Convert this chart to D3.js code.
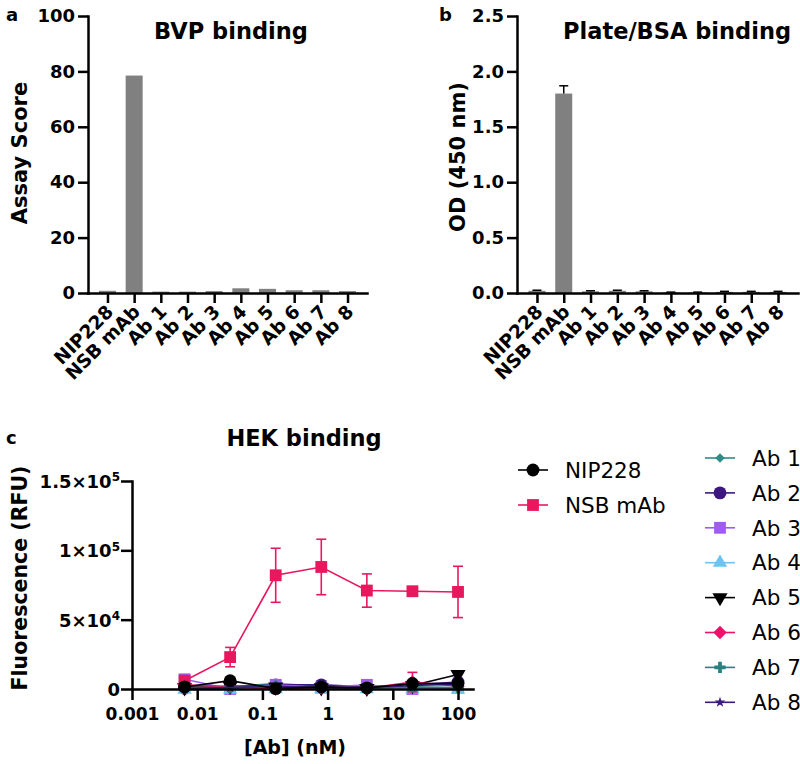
<!DOCTYPE html>
<html>
<head>
<meta charset="utf-8">
<script src="https://cdn.jsdelivr.net/npm/d3@7"></script>
<style>
  html, body { margin: 0; padding: 0; background: #fff; }
  svg { display: block; }
  text { font-family: "DejaVu Sans", "Liberation Sans", Arial, sans-serif; }
</style>
</head>
<body>
<svg id="chart" width="800" height="764"></svg>
<script>
// ---------------- DATA ----------------
const categories = ["NIP228", "NSB mAb", "Ab 1", "Ab 2", "Ab 3", "Ab 4", "Ab 5", "Ab 6", "Ab 7", "Ab 8"];
const bvpScores = [0.8, 78.5, 0.5, 0.5, 0.7, 1.7, 1.5, 1.0, 1.0, 0.7];
const bvpYTicks = [0, 20, 40, 60, 80, 100];

const plateOD = [0.02, 1.80, 0.015, 0.02, 0.015, 0.005, 0.005, 0.01, 0.01, 0.01];
const plateODErr = [0.005, 0.07, 0.005, 0.005, 0.005, 0.003, 0.003, 0.005, 0.005, 0.005];
const plateYTicks = [0, 0.5, 1.0, 1.5, 2.0, 2.5];

const concentrations = [0.0064, 0.032, 0.16, 0.8, 4, 20, 100];
const hekXTicks = [0.001, 0.01, 0.1, 1, 10, 100];
const hekYTicks = [0, 50000, 100000, 150000];

const nip228RFU = [1500, 6000, 300, 1500, 800, 4000, 4000];
const nsbRFU = [6000, 23000, 82000, 88000, 71000, 70500, 70000];
const nsbRFUErr = [1500, 7000, 19500, 20000, 12000, 500, 18500];
const ab1RFU = [2000, 1500, 4000, 2000, 1500, 1000, 500];
const ab2RFU = [500, 1000, 3000, 3000, 1500, 3000, 5000];
const ab3RFU = [7000, 0, 3000, 1000, 3000, 0, 1000];
const ab4RFU = [-500, -500, 0, 0, 0, 0, -500];
const ab5RFU = [1000, 2000, 1500, 1000, 500, 2500, 10500];
const ab6RFU = [3000, 1500, 0, 1000, 500, 5000, 2000];
const ab6RFUErr = [0, 0, 0, 0, 0, 7000, 0];
const ab7RFU = [1000, 1000, 2000, 1000, 500, 1500, 1000];
const ab8RFU = [500, 1000, 2000, 1000, 1000, 2500, 3500];

const seriesNames = ["NIP228", "NSB mAb", "Ab 1", "Ab 2", "Ab 3", "Ab 4", "Ab 5", "Ab 6", "Ab 7", "Ab 8"];
const seriesColors = ["#000000", "#e8185f", "#2e8b87", "#3d1680", "#a05cf0", "#6cc4f0", "#000000", "#f0106a", "#2a8080", "#3a1a80"];

// ---------------- HELPERS ----------------
const svg = d3.select("#chart");
const FONT = '"DejaVu Sans", "Liberation Sans", Arial, sans-serif';

function styleAxis(g, width) {
  g.selectAll("path.domain").attr("stroke", "#000").attr("stroke-width", width).attr("stroke-linecap", "square");
  g.selectAll(".tick line").attr("stroke", "#000").attr("stroke-width", width);
}

function symbolPath(kind, size) {
  const map = {
    circle: d3.symbolCircle, square: d3.symbolSquare, triangle: d3.symbolTriangle,
    tridown: d3.symbolTriangle, diamond: d3.symbolSquare, cross: d3.symbolCross, star: d3.symbolStar
  };
  return d3.symbol().type(map[kind]).size(size)();
}
function symbolRotation(kind) {
  if (kind === "tridown") return 180;
  if (kind === "diamond") return 45;
  return 0;
}
const seriesShapes = ["circle", "square", "diamond", "circle", "square", "triangle", "tridown", "diamond", "cross", "star"];
const seriesSizes = [130, 140, 45, 130, 140, 90, 100, 90, 70, 35];

// ---------------- BAR PANEL ----------------
function barPanel(opts) {
  const y = d3.scaleLinear().domain(opts.yDomain).range([293, 16]);
  const x = d3.scalePoint().domain(categories).range([opts.x0, opts.x1]).padding(opts.pad);
  const g = svg.append("g");

  g.selectAll("rect.bar").data(opts.values).join("rect")
    .attr("class", "bar")
    .attr("x", (d, i) => x(categories[i]) - 8.5)
    .attr("width", 17)
    .attr("y", d => y(d))
    .attr("height", d => y(0) - y(d))
    .attr("fill", "#808080");

  if (opts.errors) {
    const eg = g.append("g").attr("stroke", "#000").attr("stroke-width", 1.5);
    opts.values.forEach((v, i) => {
      const cx = x(categories[i]);
      eg.append("line").attr("x1", cx).attr("x2", cx).attr("y1", y(v)).attr("y2", y(v + opts.errors[i]));
      eg.append("line").attr("x1", cx - 4.5).attr("x2", cx + 4.5).attr("y1", y(v + opts.errors[i])).attr("y2", y(v + opts.errors[i]));
    });
  }

  const ya = g.append("g").attr("transform", `translate(${opts.x0},0)`)
    .call(d3.axisLeft(y).tickValues(opts.yTicks).tickSize(10).tickSizeOuter(0).tickPadding(3).tickFormat(opts.yFormat));
  ya.selectAll("text").attr("font-family", FONT).attr("font-size", 18).attr("font-weight", "bold").attr("fill", "#000");
  styleAxis(ya, 2.5);

  const xa = g.append("g").attr("transform", `translate(0,293)`)
    .call(d3.axisBottom(x).tickSize(10).tickSizeOuter(0).tickFormat(""));
  styleAxis(xa, 2.5);

  g.append("g").selectAll("text").data(categories).join("text")
    .attr("transform", d => `translate(${x(d) + 7},313) rotate(-45)`)
    .attr("text-anchor", "end")
    .attr("font-family", FONT).attr("font-size", 18.5).attr("font-weight", "bold")
    .text(d => d);

  g.append("text")
    .attr("transform", `translate(${opts.yTitleX},${opts.yTitleY}) rotate(-90)`)
    .attr("text-anchor", "middle")
    .attr("font-family", FONT).attr("font-size", 21).attr("font-weight", "bold")
    .text(opts.yTitle);

  g.append("text").attr("x", opts.titleX).attr("y", 39).attr("text-anchor", "middle")
    .attr("font-family", FONT).attr("font-size", 22.5).attr("font-weight", "bold")
    .text(opts.title);

  g.append("text").attr("x", opts.letterX).attr("y", 21)
    .attr("font-family", FONT).attr("font-size", 18).attr("font-weight", "bold")
    .text(opts.letter);
}

barPanel({
  x0: 88, x1: 367, pad: 0.73, yDomain: [0, 100], values: bvpScores, yTicks: bvpYTicks,
  yFormat: d3.format("d"), yTitle: "Assay Score", yTitleX: 27, yTitleY: 153,
  title: "BVP binding", titleX: 231, letter: "a", letterX: 6
});
barPanel({
  x0: 517, x1: 798, pad: 0.745, yDomain: [0, 2.5], values: plateOD, errors: plateODErr, yTicks: plateYTicks,
  yFormat: d3.format(".1f"), yTitle: "OD (450 nm)", yTitleX: 465, yTitleY: 157,
  title: "Plate/BSA binding", titleX: 677, letter: "b", letterX: 439
});

// ---------------- HEK PANEL ----------------
const xc = d3.scaleLog().domain([0.001, Math.pow(10, 2.23)]).range([132, 473]);
const yc = d3.scaleLinear().domain([0, 150000]).range([689, 481]);
const gc = svg.append("g");

const seriesValues = [nip228RFU, nsbRFU, ab1RFU, ab2RFU, ab3RFU, ab4RFU, ab5RFU, ab6RFU, ab7RFU, ab8RFU];
const seriesErrors = [null, nsbRFUErr, null, null, null, null, null, ab6RFUErr, null, null];
const drawOrder = [2, 3, 4, 5, 6, 7, 8, 9, 1, 0];
const lineGen = d3.line().x(d => xc(d[0])).y(d => yc(d[1]));

drawOrder.forEach(si => {
  const color = seriesColors[si];
  const pts = concentrations.map((c, i) => [c, seriesValues[si][i]]);
  const sg = gc.append("g");
  sg.append("path").attr("d", lineGen(pts)).attr("fill", "none").attr("stroke", color).attr("stroke-width", 1.6);
  if (seriesErrors[si]) {
    const err = seriesErrors[si];
    pts.forEach((p, i) => {
      if (!err[i]) return;
      const cx = xc(p[0]);
      const yl = yc(p[1] - err[i]), yh = yc(p[1] + err[i]);
      sg.append("line").attr("x1", cx).attr("x2", cx).attr("y1", yl).attr("y2", yh).attr("stroke", color).attr("stroke-width", 1.6);
      [yl, yh].forEach(yy => sg.append("line").attr("x1", cx - 5).attr("x2", cx + 5).attr("y1", yy).attr("y2", yy).attr("stroke", color).attr("stroke-width", 1.6));
    });
  }
  sg.selectAll("path.mk").data(pts).join("path").attr("class", "mk")
    .attr("d", symbolPath(seriesShapes[si], seriesSizes[si]))
    .attr("transform", d => `translate(${xc(d[0])},${yc(d[1])}) rotate(${symbolRotation(seriesShapes[si])})`)
    .attr("fill", color);
});

const xAxisC = gc.append("g").attr("transform", "translate(0,689)")
  .call(d3.axisBottom(xc).tickValues(hekXTicks).tickSize(11).tickSizeOuter(0).tickPadding(8).tickFormat(d => String(d)));
xAxisC.selectAll("text").attr("font-family", FONT).attr("font-size", 17).attr("font-weight", "bold").attr("fill", "#000");
styleAxis(xAxisC, 2.5);

const yAxisC = gc.append("g").attr("transform", "translate(132,0)")
  .call(d3.axisLeft(yc).tickValues(hekYTicks).tickSize(11).tickSizeOuter(0).tickPadding(2).tickFormat(""));
styleAxis(yAxisC, 2.5);
yAxisC.selectAll(".tick").each(function (d) {
  const t = d3.select(this).append("text")
    .attr("x", -12).attr("dy", "0.36em").attr("text-anchor", "end")
    .attr("font-family", FONT).attr("font-size", 18).attr("font-weight", "bold").attr("fill", "#000");
  if (d === 0) { t.text("0"); return; }
  const e = Math.floor(Math.log10(d));
  const m = d / Math.pow(10, e);
  t.append("tspan").text(`${m}\u00d710`);
  t.append("tspan").attr("dy", "-0.55em").attr("font-size", 12).text(e);
});

gc.append("text").attr("transform", "translate(27,578) rotate(-90)").attr("text-anchor", "middle")
  .attr("font-family", FONT).attr("font-size", 20.5).attr("font-weight", "bold").text("Fluorescence (RFU)");
gc.append("text").attr("x", 295).attr("y", 754).attr("text-anchor", "middle")
  .attr("font-family", FONT).attr("font-size", 19).attr("font-weight", "bold").text("[Ab] (nM)");
gc.append("text").attr("x", 304).attr("y", 446).attr("text-anchor", "middle")
  .attr("font-family", FONT).attr("font-size", 22.5).attr("font-weight", "bold").text("HEK binding");
gc.append("text").attr("x", 6).attr("y", 444)
  .attr("font-family", FONT).attr("font-size", 18).attr("font-weight", "bold").text("c");

// ---------------- LEGEND ----------------
const legendItems = seriesNames.map((name, i) => {
  if (i < 2) return { i, name, lx: 518, y: 470 + i * 35, tx: 565 };
  return { i, name, lx: 705, y: 458 + (i - 2) * 34.9, tx: 752 };
});
const lg = svg.append("g");
legendItems.forEach(it => {
  const color = seriesColors[it.i];
  lg.append("line").attr("x1", it.lx).attr("x2", it.lx + 30).attr("y1", it.y).attr("y2", it.y)
    .attr("stroke", color).attr("stroke-width", 1.6);
  lg.append("path").attr("d", symbolPath(seriesShapes[it.i], seriesSizes[it.i]))
    .attr("transform", `translate(${it.lx + 15},${it.y}) rotate(${symbolRotation(seriesShapes[it.i])})`)
    .attr("fill", color);
  lg.append("text").attr("x", it.tx).attr("y", it.y).attr("dy", "0.36em")
    .attr("font-family", FONT).attr("font-size", 21.5).attr("fill", "#000").text(it.name);
});
</script>
</body>
</html>
